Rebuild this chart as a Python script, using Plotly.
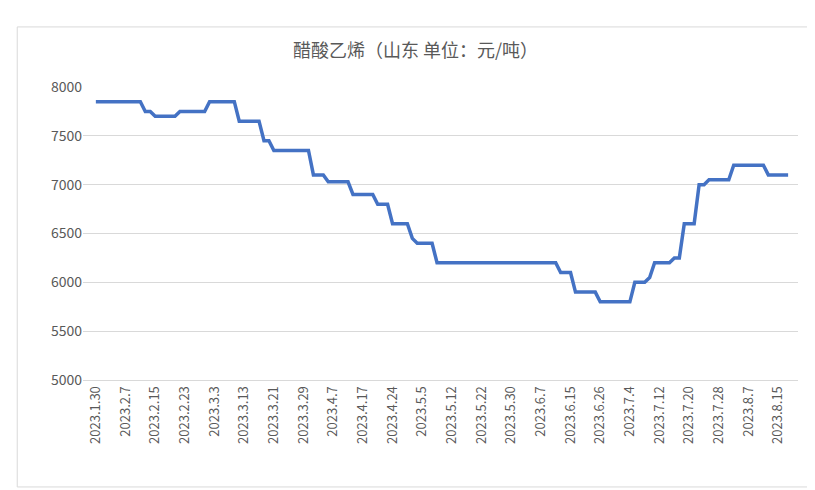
import plotly.graph_objects as go
import pandas as pd

# trading-day calendar (China 2023)
holidays = ["2023-04-05", "2023-05-01", "2023-05-02", "2023-05-03", "2023-06-22", "2023-06-23"]
makeup_days = ["2023-04-23", "2023-05-06", "2023-06-25"]
days = pd.bdate_range("2023-01-30", "2023-08-20")
days = sorted(set(days.strftime("%Y-%m-%d")) - set(holidays) | set(makeup_days))
dates = [f"{d[:4]}.{int(d[5:7])}.{int(d[8:10])}" for d in days]

# price runs (value, number of trading days)
runs = [(7850, 10), (7750, 2), (7700, 5), (7750, 6), (7850, 6), (7650, 5), (7450, 2),
        (7350, 8), (7100, 3), (7030, 5), (6900, 5), (6800, 3), (6600, 4), (6450, 1),
        (6400, 4), (6200, 25), (6100, 3), (5900, 5), (5800, 7), (6000, 3), (6050, 1),
        (6200, 4), (6250, 2), (6600, 3), (7000, 2), (7050, 5), (7200, 7), (7100, 5)]
prices = [v for v, n in runs for _ in range(n)]
dates = dates[:len(prices)]
tick_labels = dates[::6]

fig = go.Figure(go.Scatter(x=dates, y=prices, mode="lines", line=dict(color="#4472C4", width=3.5)))
fig.update_layout(
    width=815, height=490, paper_bgcolor="white", plot_bgcolor="white",
    title=dict(text="醋酸乙烯（山东 单位：元/吨）", x=0.5, y=0.925, font=dict(family="Noto Sans CJK SC", size=18, color="#595959")),
    margin=dict(l=75, r=25, t=79, b=118),
    font=dict(family="Noto Sans CJK SC", color="#595959", size=14),
    showlegend=False,
    shapes=[dict(type="rect", xref="paper", yref="paper", x0=-0.092, x1=1.022, y0=-0.365, y1=1.205,
                 line=dict(color="#D9D9D9", width=1))],
)
fig.update_xaxes(type="category", range=[-2.6, len(prices) + 1], tickvals=tick_labels, ticktext=tick_labels,
                 tickangle=-90, showgrid=False, showline=True, linecolor="#D9D9D9", ticks="", tickfont=dict(size=13))
fig.update_yaxes(range=[5000, 8000], dtick=500, gridcolor="#D9D9D9", zeroline=False, tickfont=dict(size=14))
fig.write_html("out.html")
